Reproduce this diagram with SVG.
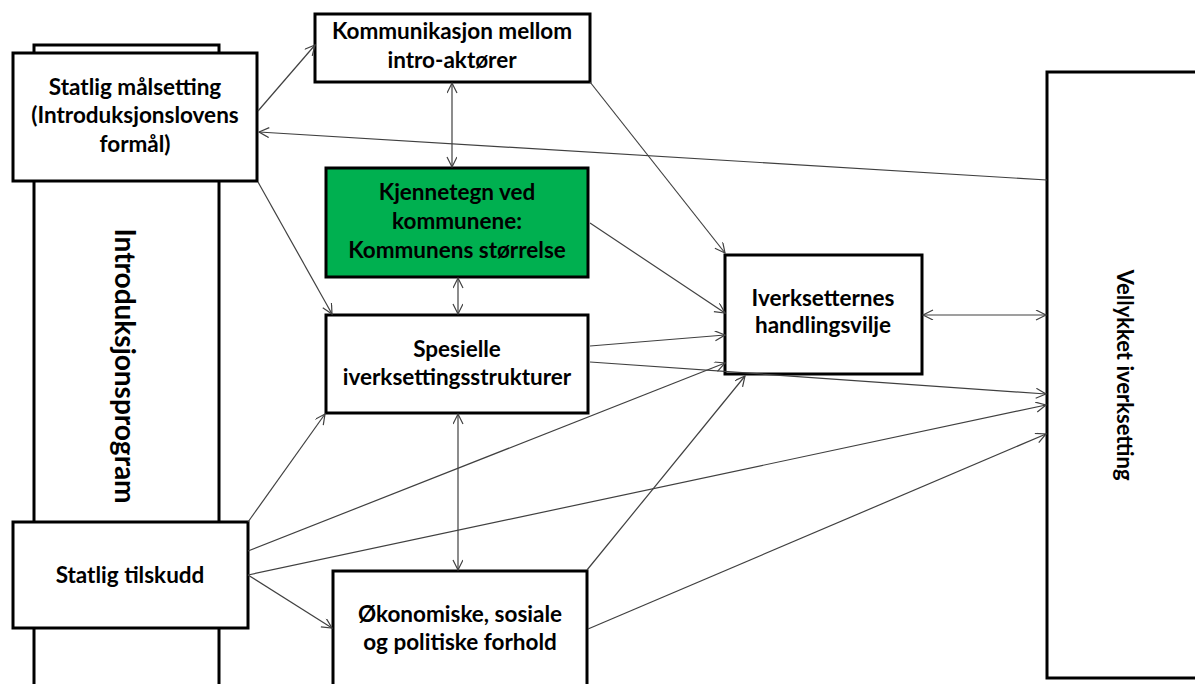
<svg xmlns="http://www.w3.org/2000/svg" width="1195" height="684" viewBox="0 0 1195 684">
<style>
.box{fill:#fff;stroke:#000;stroke-width:3}
.green{fill:#00B050;stroke:#000;stroke-width:3}
.t{font-family:Lato,"Open Sans","Liberation Sans",sans-serif;font-weight:bold;font-size:22.5px;fill:#000;text-anchor:middle}
.c line{stroke:#404040;stroke-width:1.2;fill:none}
</style>
<defs>
<marker id="a" markerUnits="userSpaceOnUse" markerWidth="14" markerHeight="12" refX="11" refY="5" orient="auto-start-reverse" viewBox="0 0 14 12">
<path d="M1,0 L11,5 L1,10" fill="none" stroke="#404040" stroke-width="1.2"/>
</marker>
</defs>
<rect width="1195" height="684" fill="#fff"/>
<g id="introprogram">
<rect class="box" x="34" y="45" width="185" height="660"/>
<text class="t" style="font-size:28px" transform="translate(115,366) rotate(90)">Introduksjonsprogram</text>
</g>
<g id="vellykket">
<rect class="box" x="1047" y="72" width="170" height="606"/>
<text class="t" style="font-size:22px" transform="translate(1117,375) rotate(90)">Vellykket iverksetting</text>
</g>
<g id="maalsetting">
<rect class="box" x="13" y="53" width="244" height="128"/>
<text class="t" x="135" y="95">Statlig målsetting</text>
<text class="t" x="135" y="123">(Introduksjonslovens</text>
<text class="t" x="135" y="152">formål)</text>
</g>
<g id="kommunikasjon">
<rect class="box" x="315" y="14" width="275" height="68"/>
<text class="t" x="452" y="39">Kommunikasjon mellom</text>
<text class="t" x="452" y="68">intro-aktører</text>
</g>
<g id="kjennetegn">
<rect class="green" x="326" y="168" width="262" height="109"/>
<text class="t" x="457" y="200">Kjennetegn ved</text>
<text class="t" x="457" y="229">kommunene:</text>
<text class="t" x="457" y="258">Kommunens størrelse</text>
</g>
<g id="spesielle">
<rect class="box" x="326" y="315" width="262" height="98"/>
<text class="t" x="457" y="357">Spesielle</text>
<text class="t" x="457" y="385">iverksettingsstrukturer</text>
</g>
<g id="handlingsvilje">
<rect class="box" x="725" y="255" width="197" height="119"/>
<text class="t" x="823" y="306">Iverksetternes</text>
<text class="t" x="823" y="333">handlingsvilje</text>
</g>
<g id="tilskudd">
<rect class="box" x="13" y="522" width="235" height="106"/>
<text class="t" x="130" y="583">Statlig tilskudd</text>
</g>
<g id="okonomiske">
<rect class="box" x="333" y="571" width="254" height="130"/>
<text class="t" x="460" y="622">Økonomiske, sosiale</text>
<text class="t" x="460" y="650">og politiske forhold</text>
</g>
<g id="connectors" class="c">
<line x1="258" y1="111" x2="315" y2="45" marker-end="url(#a)"/>
<line x1="1047" y1="180" x2="259" y2="132" marker-end="url(#a)"/>
<line x1="258" y1="182" x2="332" y2="314" marker-end="url(#a)"/>
<line x1="452" y1="83" x2="452" y2="167" marker-start="url(#a)" marker-end="url(#a)"/>
<line x1="458" y1="278" x2="458" y2="314" marker-start="url(#a)" marker-end="url(#a)"/>
<line x1="458" y1="414" x2="458" y2="570" marker-start="url(#a)" marker-end="url(#a)"/>
<line x1="590" y1="82" x2="725" y2="253" marker-end="url(#a)"/>
<line x1="590" y1="223" x2="725" y2="313" marker-end="url(#a)"/>
<line x1="590" y1="346" x2="725" y2="335" marker-end="url(#a)"/>
<line x1="590" y1="362" x2="1046" y2="394" marker-end="url(#a)"/>
<line x1="248" y1="522" x2="325" y2="414" marker-end="url(#a)"/>
<line x1="248" y1="551" x2="725" y2="363" marker-end="url(#a)"/>
<line x1="248" y1="575" x2="1046" y2="405" marker-end="url(#a)"/>
<line x1="248" y1="575" x2="332" y2="628" marker-end="url(#a)"/>
<line x1="587" y1="570" x2="745" y2="376" marker-end="url(#a)"/>
<line x1="588" y1="629" x2="1046" y2="434" marker-end="url(#a)"/>
<line x1="923" y1="315" x2="1046" y2="315" marker-start="url(#a)" marker-end="url(#a)"/>
</g>
</svg>
